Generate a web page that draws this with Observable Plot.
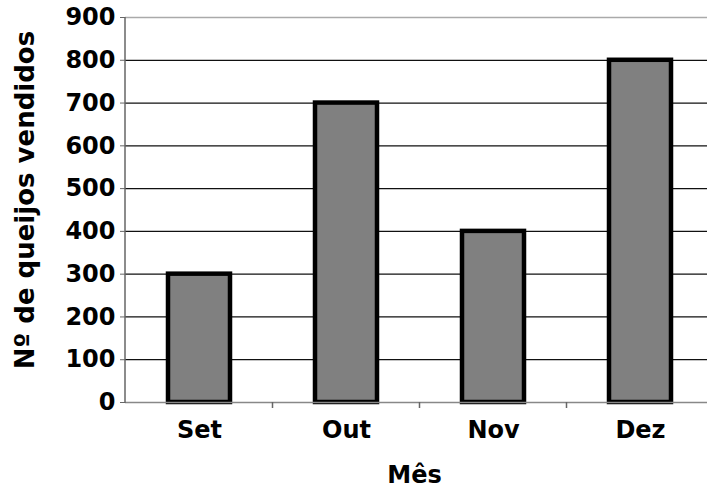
<!DOCTYPE html>
<html>
<head>
<meta charset="utf-8">
<script src="https://cdn.jsdelivr.net/npm/d3@7"></script>
<script src="https://cdn.jsdelivr.net/npm/@observablehq/plot@0.6"></script>
<style>
  html, body { margin: 0; padding: 0; background: #fff; }
  #chart svg { display: block; }
</style>
</head>
<body>
<div id="chart"></div>
<script>
const months = ["Set", "Out", "Nov", "Dez"];
const sold = [300, 700, 400, 800];
const yTicks = [0, 100, 200, 300, 400, 500, 600, 700, 800, 900];
const xLabel = "Mês";
const yLabel = "Nº de queijos vendidos";

const data = months.map((m, i) => ({month: m, value: sold[i]}));
const FONT = "'DejaVu Sans', Arial, sans-serif";

const plot = Plot.plot({
  width: 707,
  height: 488,
  marginLeft: 125,
  marginRight: 0,
  marginTop: 17,
  marginBottom: 86,
  style: {fontFamily: FONT, fontWeight: "bold", fontSize: "24px", color: "#000", background: "#fff", overflow: "hidden"},
  x: {domain: months, range: [125, 713], paddingInner: 0.58, paddingOuter: 0.29, label: null},
  y: {domain: [0, 900], ticks: yTicks, label: null},
  marks: [
    Plot.ruleY(yTicks.filter(t => t > 0 && t < 900), {stroke: "#111", strokeWidth: 1.3}),
    Plot.ruleY([900], {stroke: "#aaa", strokeWidth: 1.5}),
    Plot.barY(data, {x: "month", y: "value", fill: "#808080", stroke: "#000", strokeWidth: 4.5}),
    Plot.ruleY([0], {stroke: "#888", strokeWidth: 1.5}),
    Plot.axisY({ticks: yTicks, tickSize: 5, tickPadding: 5, stroke: "#666", fontSize: 24, fontWeight: "bold", label: null}),
    Plot.axisX({tickSize: 0, tickPadding: 18, fontSize: 24, fontWeight: "bold", label: null}),
    Plot.text([xLabel], {frameAnchor: "bottom", dy: 80, dx: -2, fontSize: 24, fontWeight: "bold"}),
    Plot.text([yLabel], {frameAnchor: "left", textAnchor: "middle", rotate: -90, dx: -100, dy: -10, fontSize: 26, fontWeight: "bold"})
  ]
});

// y axis line and category boundary ticks derived from the scales
const xs = plot.scale("x");
const ys = plot.scale("y");
const svg = d3.select(plot);
const g = svg.append("g").attr("stroke", "#666").attr("stroke-width", 1.5);
const x0 = xs.range[0];
g.append("line")
  .attr("x1", x0).attr("x2", x0)
  .attr("y1", ys.apply(900)).attr("y2", ys.apply(0) + 1);
const step = xs.step;
months.slice(0, -1).forEach(m => {
  const x = xs.apply(m) + xs.bandwidth + (step - xs.bandwidth) / 2;
  g.append("line").attr("x1", x).attr("x2", x)
    .attr("y1", ys.apply(0)).attr("y2", ys.apply(0) + 6);
});

document.getElementById("chart").appendChild(plot);
</script>
</body>
</html>
